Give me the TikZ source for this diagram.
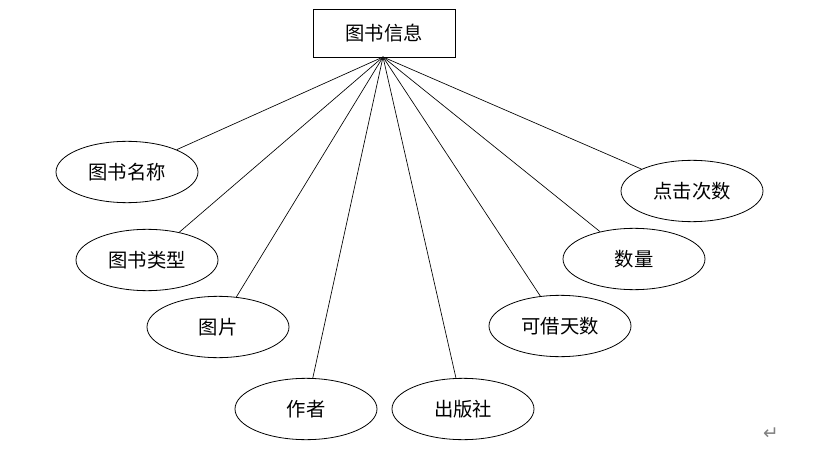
\documentclass[tikz,border=0pt]{standalone}
\usepackage{fontspec}
\usetikzlibrary{shapes.geometric}
\newfontfamily\cjk{Noto Sans CJK SC}
\newfontfamily\symf{DejaVu Sans}
\begin{document}
\begin{tikzpicture}[x=0.75pt,y=-0.75pt,
  attr/.style={draw,ellipse,inner sep=0pt,minimum width=106.5pt,minimum height=46pt,font=\cjk\fontsize{14.5pt}{16pt}\selectfont,line width=0.6pt},
  ent/.style={draw,rectangle,inner sep=0pt,minimum width=106.5pt,minimum height=36pt,font=\cjk\fontsize{14.5pt}{16pt}\selectfont,line width=0.6pt},
  link/.style={line width=0.5pt}]
\useasboundingbox (0,0) rectangle (821,456);
\node[ent] (t) at (384,33) {图书信息};
\coordinate (hub) at (383,57);
\node[attr] (a1) at (127,172) {图书名称};
\node[attr] (a2) at (147,260) {图书类型};
\node[attr] (a3) at (218,327) {图片};
\node[attr] (a4) at (306,409) {作者};
\node[attr] (a5) at (463,409) {出版社};
\node[attr] (a6) at (560,326) {可借天数};
\node[attr] (a7) at (634,259) {数量};
\node[attr] (a8) at (692,191) {点击次数};
\foreach \n in {a1,a2,a3,a4,a5,a6,a7,a8}
  \draw[link] (hub) -- (\n);
\node[text=gray,font=\symf\fontsize{14pt}{15pt}\selectfont,inner sep=0pt] (ret) at (771,434) {↵};
\end{tikzpicture}
\end{document}
